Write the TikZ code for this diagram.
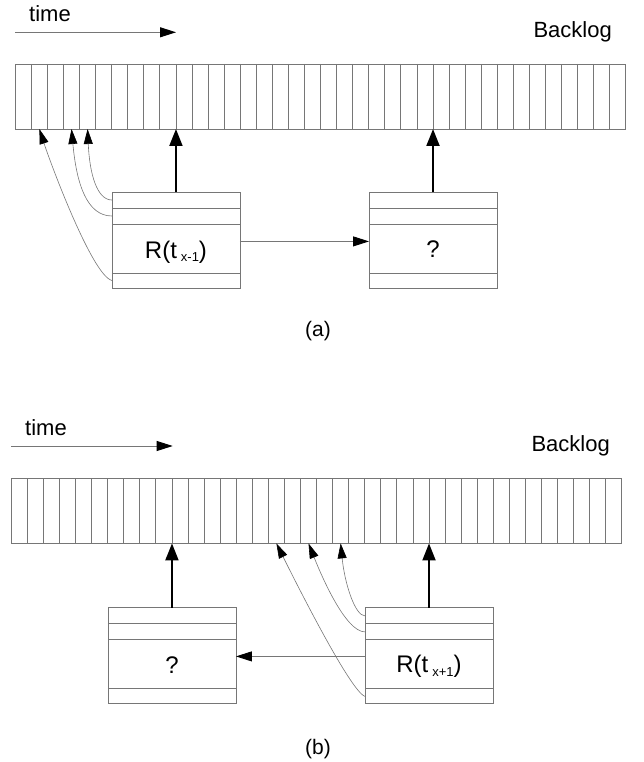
\documentclass[tikz,border=0pt]{standalone}
\usepackage{fontspec}
\setmainfont{Liberation Sans}
\usetikzlibrary{arrows.meta,calc}
\definecolor{lg}{RGB}{118,118,118}
\tikzset{
  cellbar/.style={draw=lg, line width=0.9pt, minimum width=610.5pt, minimum height=65pt, inner sep=0pt, outer sep=0pt, anchor=north west},
  recbox/.style={draw=lg, line width=0.9pt, minimum width=128pt, minimum height=96pt, inner sep=0pt, outer sep=0pt, anchor=north},
  divider/.style={draw=lg, line width=0.9pt},
  bigarrow/.style={line width=2pt, -{Triangle[length=17pt,width=13pt]}},
  thinarrow/.style={draw=lg, line width=0.9pt, -{Triangle[length=16pt,width=10pt,color=black]}},
  curvearrow/.style={draw=lg, line width=0.6pt, -{Triangle[length=15pt,width=9pt,color=black]}},
  lbl/.style={font=\fontsize{22}{22}\selectfont, inner sep=0pt},
  boxtext/.style={font=\fontsize{24}{24}\selectfont, inner sep=0pt, anchor=base},
}
\newcommand{\subsc}[1]{\,\raisebox{-3.5pt}{\fontsize{13}{13}\selectfont #1}}
\begin{document}
\begin{tikzpicture}[x=1pt,y=-1pt]
\useasboundingbox (0,0) rectangle (644,762);
\def\cw{16.066}
% ================= (a) =================
\node[lbl, anchor=base west] (timeA) at (29,21.7) {time};
\coordinate (tA0) at (15,32.3);
\coordinate (tA1) at (176,32.3);
\draw[thinarrow] (tA0) -- (tA1);
\node[lbl, anchor=base east] (backA) at (612,38) {Backlog};
\node[cellbar] (barA) at (15.3,64) {};
\foreach \i in {1,...,37} {
  \draw[divider] ($(barA.north west)+(\i*\cw,0)$) -- ($(barA.south west)+(\i*\cw,0)$);
}
\node[recbox] (rA) at ($(barA.south west)+(10*\cw,63)$) {};
\node[recbox] (qA) at ($(barA.south west)+(26*\cw,63)$) {};
\foreach \b in {rA,qA} {
  \foreach \d in {16,32,81} {
    \draw[divider] ($(\b.north west)+(0,\d)$) -- ($(\b.north east)+(0,\d)$);
  }
}
\node[boxtext] (rAtxt) at ($(rA.north)+(0,66)$) {R(t\subsc{x-1})};
\node[boxtext] (qAtxt) at ($(qA.north)+(0,65)$) {?};
\coordinate (pA10) at ($(barA.south west)+(10*\cw,0)$);
\coordinate (pA26) at ($(barA.south west)+(26*\cw,0)$);
\coordinate (cA1) at ($(barA.south west)+(1.5*\cw,0)$);
\coordinate (cA3) at ($(barA.south west)+(3.5*\cw,0)$);
\coordinate (cA4) at ($(barA.south west)+(4.5*\cw,0)$);
\draw[bigarrow] (rA.north) -- (pA10);
\draw[bigarrow] (qA.north) -- (pA26);
\draw[thinarrow] ($(rA.north east)+(0,49.4)$) -- ($(qA.north west)+(0,49.4)$);
\draw[curvearrow] ($(rA.north west)+(0,8)$) .. controls +(-15,0) and +(2,45) .. (cA4);
\draw[curvearrow] ($(rA.north west)+(0,24)$) .. controls +(-25,0) and +(5,55) .. (cA3);
\draw[curvearrow] ($(rA.north west)+(0,88.5)$) .. controls +(-20,-5) and +(10,31) .. (cA1);
\node[font=\fontsize{21}{21}\selectfont, inner sep=0pt, anchor=base] (labA) at (318,336) {(a)};
% ================= (b) =================
\node[lbl, anchor=base west] (timeB) at (25,435) {time};
\coordinate (tB0) at (11.3,446);
\coordinate (tB1) at (172.7,446);
\draw[thinarrow] (tB0) -- (tB1);
\node[lbl, anchor=base east] (backB) at (610,451.7) {Backlog};
\node[cellbar] (barB) at (11.3,478.4) {};
\foreach \i in {1,...,37} {
  \draw[divider] ($(barB.north west)+(\i*\cw,0)$) -- ($(barB.south west)+(\i*\cw,0)$);
}
\node[recbox] (qB) at ($(barB.south west)+(10*\cw,64.5)$) {};
\node[recbox] (rB) at ($(barB.south west)+(26*\cw,64.5)$) {};
\foreach \b in {rB,qB} {
  \foreach \d in {16,32,81} {
    \draw[divider] ($(\b.north west)+(0,\d)$) -- ($(\b.north east)+(0,\d)$);
  }
}
\node[boxtext] (rBtxt) at ($(rB.north)+(0,65)$) {R(t\subsc{x+1})};
\node[boxtext] (qBtxt) at ($(qB.north)+(0,66)$) {?};
\coordinate (pB10) at ($(barB.south west)+(10*\cw,0)$);
\coordinate (pB26) at ($(barB.south west)+(26*\cw,0)$);
\coordinate (cB16) at ($(barB.south west)+(16.5*\cw,0)$);
\coordinate (cB18) at ($(barB.south west)+(18.5*\cw,0)$);
\coordinate (cB20) at ($(barB.south west)+(20.5*\cw,0)$);
\draw[bigarrow] (qB.north) -- (pB10);
\draw[bigarrow] (rB.north) -- (pB26);
\draw[thinarrow] ($(rB.north west)+(0,48.5)$) -- ($(qB.north east)+(0,48.5)$);
\draw[curvearrow] ($(rB.north west)+(0,8)$) .. controls +(-10,0) and +(4,40) .. (cB20);
\draw[curvearrow] ($(rB.north west)+(0,24)$) .. controls +(-20,0) and +(12,30) .. (cB18);
\draw[curvearrow] ($(rB.north west)+(0,88.5)$) .. controls +(-15,-5) and +(15,30) .. (cB16);
\node[font=\fontsize{21}{21}\selectfont, inner sep=0pt, anchor=base] (labB) at (318,754) {(b)};
\end{tikzpicture}
\end{document}
